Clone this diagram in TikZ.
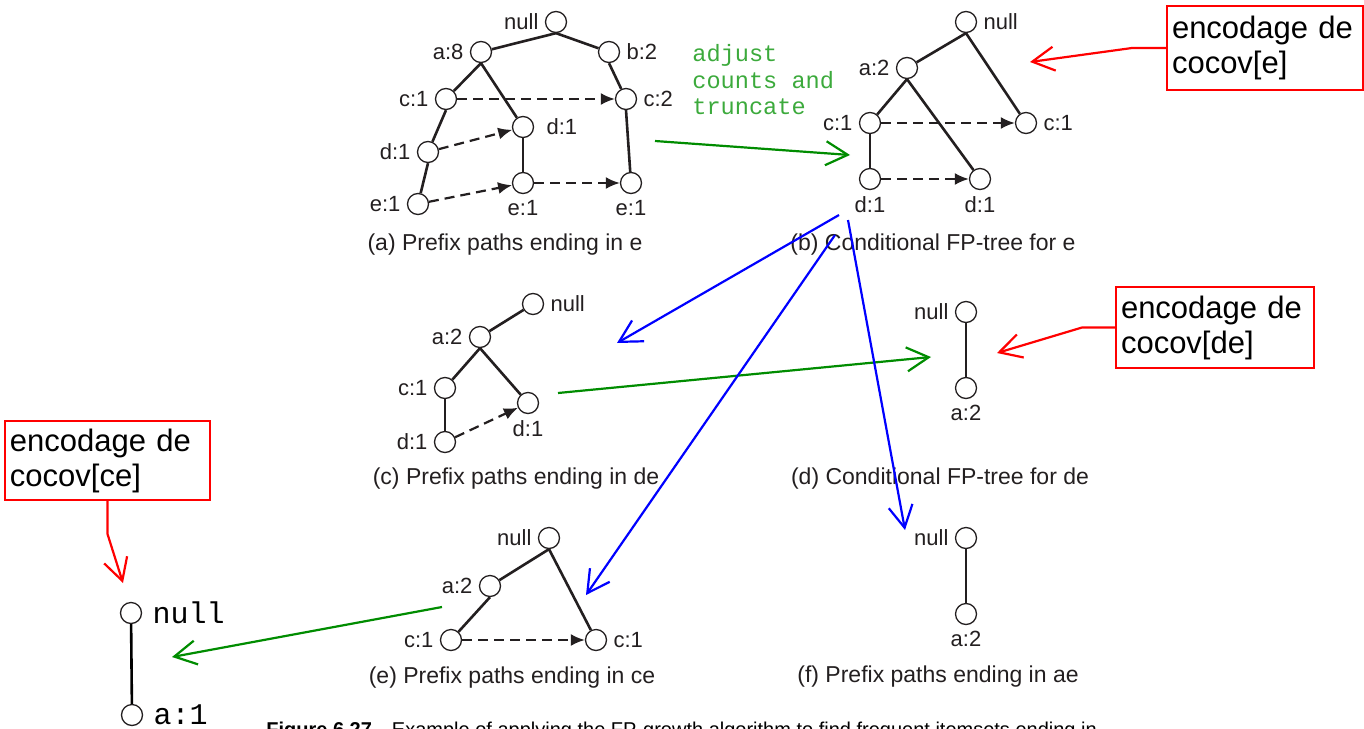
\documentclass[tikz,border=0pt]{standalone}
\usepackage{fontspec}
\setmainfont{Liberation Sans}
\setmonofont{Liberation Mono}
\usetikzlibrary{arrows.meta}

\definecolor{inkgray}{RGB}{35,31,32}
\definecolor{notegreen}{RGB}{60,170,60}
\definecolor{flowgreen}{RGB}{0,140,0}

\tikzset{
    fpnode/.style={circle, draw=inkgray, line width=0.65pt, minimum size=10.5pt, inner sep=0pt, fill=white},
    every label/.style={font=\fontsize{11}{13}\selectfont, text=inkgray, inner sep=3pt},
    treeedge/.style={draw=inkgray, line width=1.3pt},
    linkarrow/.style={draw=inkgray, line width=1.1pt, dash pattern=on 5pt off 3pt, -{Latex[length=7pt,width=6pt]}},
    caption/.style={font=\fontsize{11.5}{13}\selectfont, text=inkgray},
    notetext/.style={font=\fontsize{11.8}{13.25}\ttfamily, text=notegreen, align=left, inner sep=0pt},
    redbox/.style={draw=red, line width=1pt, align=left, inner xsep=2.5pt, font=\fontsize{15.5}{17.5}\selectfont},
    redarrow/.style={draw=red, line width=1.1pt, -{Straight Barb[length=11pt,width=12pt]}},
    greenarrow/.style={draw=flowgreen, line width=1.1pt, -{Straight Barb[length=11pt,width=12pt]}},
    bluearrow/.style={draw=blue, line width=1.1pt, -{Straight Barb[length=11pt,width=12pt]}}
}

\begin{document}
\begin{tikzpicture}[x=0.5pt, y=-0.5pt]
    \useasboundingbox (0,0) rectangle (1364,728);

    % (a) prefix paths ending in e
    \node[fpnode, label=left:null] (a-null) at (556,22) {};
    \node[fpnode, label=left:{a:8}] (a-a8) at (481,52) {};
    \node[fpnode, label=right:{b:2}] (a-b2) at (609,52) {};
    \node[fpnode, label=left:{c:1}] (a-c1) at (446,99) {};
    \node[fpnode, label=right:{c:2}] (a-c2) at (626,99) {};
    \node[fpnode, label={[label distance=3pt]right:{d:1}}] (a-d1m) at (523,127) {};
    \node[fpnode, label=left:{d:1}] (a-d1l) at (428,152) {};
    \node[fpnode, label=left:{e:1}] (a-e1l) at (418,204) {};
    \node[fpnode, label=below:{e:1}] (a-e1m) at (523,183) {};
    \node[fpnode, label=below:{e:1}] (a-e1r) at (631,183) {};
    \draw[treeedge] (a-null.south) -- (a-a8);
    \draw[treeedge] (a-null.south) -- (a-b2);
    \draw[treeedge] (a-a8.south) -- (a-c1);
    \draw[treeedge] (a-a8.south) -- (a-d1m);
    \draw[treeedge] (a-b2.south) -- (a-c2);
    \draw[treeedge] (a-c1.south) -- (a-d1l);
    \draw[treeedge] (a-d1l.south) -- (a-e1l);
    \draw[treeedge] (a-d1m) -- (a-e1m);
    \draw[treeedge] (a-c2.south) -- (a-e1r);
    \draw[linkarrow] (a-c1) -- (a-c2);
    \draw[linkarrow] (a-d1l) -- (a-d1m);
    \draw[linkarrow] (a-e1l) -- (a-e1m);
    \draw[linkarrow] (a-e1m) -- (a-e1r);
    \node[caption] (cap-a) at (505,245) {(a) Prefix paths ending in e};

    % (b) conditional FP-tree for e
    \node[fpnode, label=right:null] (b-null) at (966,22) {};
    \node[fpnode, label=left:{a:2}] (b-a2) at (907,68) {};
    \node[fpnode, label=left:{c:1}] (b-c1l) at (870,123) {};
    \node[fpnode, label=right:{c:1}] (b-c1r) at (1026,123) {};
    \node[fpnode, label=below:{d:1}] (b-d1l) at (870,179) {};
    \node[fpnode, label=below:{d:1}] (b-d1r) at (980,179) {};
    \draw[treeedge] (b-null.south) -- (b-a2);
    \draw[treeedge] (b-null.south) -- (b-c1r);
    \draw[treeedge] (b-a2.south) -- (b-c1l);
    \draw[treeedge] (b-a2.south) -- (b-d1r);
    \draw[treeedge] (b-c1l) -- (b-d1l);
    \draw[linkarrow] (b-c1l) -- (b-c1r);
    \draw[linkarrow] (b-d1l) -- (b-d1r);
    \node[caption] (cap-b) at (933,245) {(b) Conditional FP-tree for e};

    % (c) prefix paths ending in de
    \node[fpnode, label=right:null] (c-null) at (533,304) {};
    \node[fpnode, label=left:{a:2}] (c-a2) at (480,337) {};
    \node[fpnode, label=left:{c:1}] (c-c1) at (445,388) {};
    \node[fpnode, label=below:{d:1}] (c-d1r) at (528,403) {};
    \node[fpnode, label=left:{d:1}] (c-d1l) at (445,442) {};
    \draw[treeedge] (c-null) -- (c-a2);
    \draw[treeedge] (c-a2.south) -- (c-c1);
    \draw[treeedge] (c-a2.south) -- (c-d1r);
    \draw[treeedge] (c-c1) -- (c-d1l);
    \draw[linkarrow] (c-d1l) -- (c-d1r);
    \node[caption] (cap-c) at (516,479) {(c) Prefix paths ending in de};

    % (d) conditional FP-tree for de
    \node[fpnode, label=left:null] (d-null) at (966,312) {};
    \node[fpnode, label=below:{a:2}] (d-a2) at (966,388) {};
    \draw[treeedge] (d-null) -- (d-a2);
    \node[caption] (cap-d) at (940,479) {(d) Conditional FP-tree for de};

    % (e) prefix paths ending in ce
    \node[fpnode, label=left:null] (e-null) at (549,538) {};
    \node[fpnode, label=left:{a:2}] (e-a2) at (490,586) {};
    \node[fpnode, label=left:{c:1}] (e-c1l) at (451,640) {};
    \node[fpnode, label=right:{c:1}] (e-c1r) at (596,640) {};
    \draw[treeedge] (e-null.south) -- (e-a2);
    \draw[treeedge] (e-null.south) -- (e-c1r);
    \draw[treeedge] (e-a2.south) -- (e-c1l);
    \draw[linkarrow] (e-c1l) -- (e-c1r);
    \node[caption] (cap-e) at (512,678) {(e) Prefix paths ending in ce};

    % (f) prefix paths ending in ae
    \node[fpnode, label=left:null] (f-null) at (966,538) {};
    \node[fpnode, label=below:{a:2}] (f-a2) at (966,614) {};
    \draw[treeedge] (f-null) -- (f-a2);
    \node[caption] (cap-f) at (938,677) {(f) Prefix paths ending in ae};

    % encoding of cocov[ce]
    \node[fpnode, label={[font=\fontsize{15}{17}\ttfamily, text=black, inner sep=5pt]right:null}] (g-null) at (131,613) {};
    \node[fpnode, label={[font=\fontsize{15}{17}\ttfamily, text=black, inner sep=5pt]right:{a:1}}] (g-a1) at (132,715) {};
    \draw[treeedge, draw=black] (g-null) -- (g-a1);

    % annotations
    \node[notetext, anchor=west] (adjust) at (692,80) {adjust\\counts and\\truncate};

    \node[redbox, text width=93pt, minimum height=42pt] (box-e) at (1265,48) {encodage de\\cocov[e]};
    \node[redbox, text width=94pt, minimum height=40.5pt] (box-de) at (1215,327.5) {encodage de\\cocov[de]};
    \node[redbox, text width=97.5pt, minimum height=39.5pt] (box-ce) at (107.5,460.5) {encodage de\\cocov[ce]};
    \coordinate (tip-e) at (1030,62);
    \coordinate (tip-de) at (997,353);
    \coordinate (tip-ce) at (123,583);
    \draw[redarrow] (box-e.west) -- ++(-34,0) -- (tip-e);
    \draw[redarrow] (box-de.west) -- ++(-33,0) -- (tip-de);
    \draw[redarrow] (box-ce.south) -- ++(0,33) -- (tip-ce);

    \coordinate (g1-from) at (655,141);
    \coordinate (g1-to) at (850,155);
    \coordinate (g2-from) at (558,393);
    \coordinate (g2-to) at (931,357);
    \coordinate (g3-from) at (442,607);
    \coordinate (g3-to) at (172,657);
    \draw[greenarrow] (g1-from) -- (g1-to);
    \draw[greenarrow] (g2-from) -- (g2-to);
    \draw[greenarrow] (g3-from) -- (g3-to);

    \coordinate (b1-from) at (839,215);
    \coordinate (b1-to) at (617,343);
    \coordinate (b2-from) at (835,235);
    \coordinate (b2-to) at (586,595);
    \coordinate (b3-from) at (848,220);
    \coordinate (b3-to) at (905,530);
    \draw[bluearrow] (b1-from) -- (b1-to);
    \draw[bluearrow] (b2-from) -- (b2-to);
    \draw[bluearrow] (b3-from) -- (b3-to);

    % figure caption, cut by the page edge as in the source
    \node[anchor=north west, inner sep=0pt, font=\fontsize{10}{12}\selectfont] (fig-cap) at (266,722)
        {\textbf{Figure 6.27}\hspace{1em}Example of applying the FP-growth algorithm to find frequent itemsets ending in};
\end{tikzpicture}
\end{document}
